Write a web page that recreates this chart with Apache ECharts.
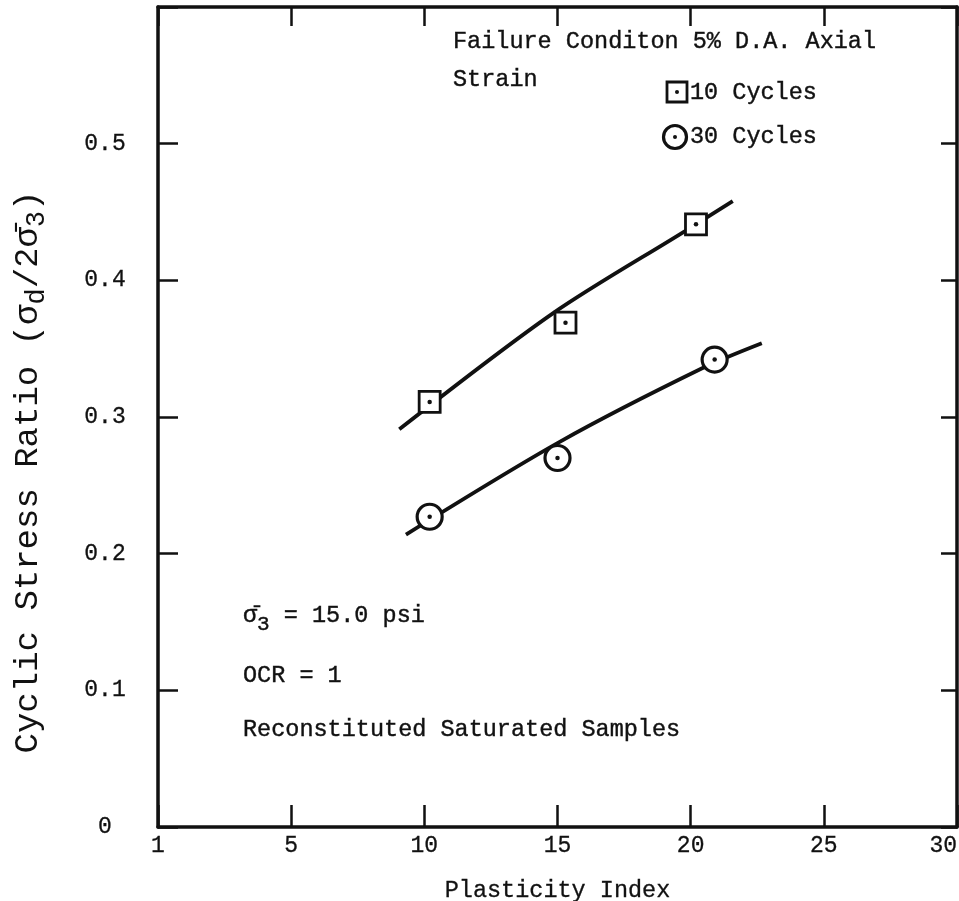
<!DOCTYPE html>
<html>
<head>
<meta charset="utf-8">
<title>Cyclic Stress Ratio vs Plasticity Index</title>
<script src="https://cdn.jsdelivr.net/npm/echarts@6/dist/echarts.min.js"></script>
<style>
  html, body { margin: 0; padding: 0; background: #fff; }
  #chart { width: 959px; height: 901px; }
</style>
</head>
<body>
<div id="chart"></div>
<script>
// axis tick labels as printed on the figure
var xTickLabels = ['1', '5', '10', '15', '20', '25', '30'];
var yTickLabels = ['0', '0.1', '0.2', '0.3', '0.4', '0.5', ''];

var pi10 = [10.2, 15.3, 20.2];
var csr10 = [0.311, 0.369, 0.441];
var pi30 = [10.2, 15.0, 20.9];
var csr30 = [0.227, 0.270, 0.342];

// hand drawn trend lines
var fitPi10 = [9.06, 14.84, 19.79, 21.58];
var fitCsr10 = [0.291, 0.376, 0.436, 0.458];
var fitPi30 = [9.31, 15.1, 20.47, 22.67];
var fitCsr30 = [0.214, 0.282, 0.336, 0.354];

var FONT = 'Liberation Mono';
var INK = '#111';

function pairs(xs, ys) {
    return xs.map(function (x, i) { return [x, ys[i]]; });
}

// plain text block for the graphic layer, slightly stroked to look typed
function note(x, y, text) {
    return {
        type: 'text', x: x, y: y,
        style: {
            text: text, fontFamily: FONT, fontSize: 23.5, fill: INK,
            stroke: INK, lineWidth: 0.4, verticalAlign: 'middle'
        }
    };
}

var chart = echarts.init(document.getElementById('chart'));

var frameLine = { show: true, onZero: false, lineStyle: { color: INK, width: 3.5 } };
var tickFont = { color: INK, fontFamily: FONT, fontSize: 23, textBorderColor: INK, textBorderWidth: 0.3 };

var option = {
    backgroundColor: '#fff',
    animation: false,
    grid: { left: 158, right: 2, top: 7, bottom: 74, outerBoundsMode: 'none', containLabel: false },
    xAxis: [
        {
            type: 'value', position: 'bottom', min: 0, max: 30, interval: 5,
            axisLine: frameLine,
            axisTick: { inside: true, length: 22, lineStyle: { color: INK, width: 2.5 } },
            splitLine: { show: false },
            axisLabel: Object.assign({
                margin: 7, alignMaxLabel: 'right',
                formatter: function (v) { return xTickLabels[Math.round(v / 5)]; }
            }, tickFont),
            name: 'Plasticity Index', nameLocation: 'middle', nameGap: 52,
            nameTextStyle: { color: INK, fontFamily: FONT, fontSize: 23.5, textBorderColor: INK, textBorderWidth: 0.3 }
        },
        {
            type: 'value', position: 'top', min: 0, max: 30, interval: 5,
            axisLine: frameLine,
            axisTick: { inside: true, length: 19, lineStyle: { color: INK, width: 2.5 } },
            axisLabel: { show: false },
            splitLine: { show: false }
        }
    ],
    yAxis: [
        {
            type: 'value', position: 'left', min: 0, max: 0.6, interval: 0.1,
            axisLine: frameLine,
            axisTick: { inside: true, length: 20, lineStyle: { color: INK, width: 2.5 } },
            splitLine: { show: false },
            axisLabel: Object.assign({
                margin: 53, align: 'center',
                formatter: function (v) { return yTickLabels[Math.round(v * 10)]; }
            }, tickFont)
        },
        {
            type: 'value', position: 'right', min: 0, max: 0.6, interval: 0.1,
            axisLine: frameLine,
            axisTick: { inside: true, length: 16, lineStyle: { color: INK, width: 2.5 } },
            axisLabel: { show: false },
            splitLine: { show: false }
        }
    ],
    series: [
        {
            name: '10 Cycles line', type: 'line', data: pairs(fitPi10, fitCsr10),
            smooth: 0.3, symbol: 'none', lineStyle: { color: INK, width: 3.8 }, z: 2
        },
        {
            name: '30 Cycles line', type: 'line', data: pairs(fitPi30, fitCsr30),
            smooth: 0.3, symbol: 'none', lineStyle: { color: INK, width: 3.8 }, z: 2
        },
        {
            name: '10 Cycles', type: 'scatter', data: pairs(pi10, csr10),
            symbol: 'rect', symbolSize: 21,
            itemStyle: { color: '#fff', borderColor: INK, borderWidth: 2.8, opacity: 1 }, z: 3
        },
        {
            name: '30 Cycles', type: 'scatter', data: pairs(pi30, csr30),
            symbol: 'circle', symbolSize: 25,
            itemStyle: { color: '#fff', borderColor: INK, borderWidth: 3.2, opacity: 1 }, z: 3
        },
        {
            // centre dots of both marker kinds
            name: 'dots', type: 'scatter', data: pairs(pi10, csr10).concat(pairs(pi30, csr30)),
            symbol: 'circle', symbolSize: 4.5, itemStyle: { color: INK, opacity: 1 }, z: 4
        }
    ],
    graphic: [
        // y axis title, reading bottom to top
        {
            type: 'text', x: 28, y: 472, rotation: Math.PI / 2,
            style: {
                text: '{m|Cyclic Stress Ratio (σ}{s|d}{m|/2σ̄}{s|3}{m|)}',
                align: 'center', verticalAlign: 'middle', fill: INK,
                rich: {
                    m: { fontFamily: FONT, fontSize: 34, fill: INK },
                    s: { fontFamily: FONT, fontSize: 27, fill: INK, padding: [17, 0, 0, 0] }
                }
            }
        },
        // note block, upper right
        note(453, 42, 'Failure Conditon 5% D.A. Axial'),
        note(453, 80, 'Strain'),
        {
            type: 'rect', shape: { x: 667, y: 82, width: 20, height: 20 },
            style: { fill: '#fff', stroke: INK, lineWidth: 2.8 }
        },
        { type: 'circle', shape: { cx: 677, cy: 92, r: 2 }, style: { fill: INK } },
        note(690, 93, '10 Cycles'),
        {
            type: 'circle', shape: { cx: 675, cy: 137, r: 11.5 },
            style: { fill: '#fff', stroke: INK, lineWidth: 3.2 }
        },
        { type: 'circle', shape: { cx: 675, cy: 137, r: 2 }, style: { fill: INK } },
        note(690, 137, '30 Cycles'),
        // test conditions, lower left
        {
            type: 'text', x: 243, y: 616,
            style: {
                text: '{m|σ̄}{s|3}{m| = 15.0 psi}', verticalAlign: 'middle', fill: INK,
                rich: {
                    m: { fontFamily: FONT, fontSize: 23.5, fill: INK, stroke: INK, lineWidth: 0.4 },
                    s: { fontFamily: FONT, fontSize: 21, fill: INK, stroke: INK, lineWidth: 0.4, padding: [16, 0, 0, 0] }
                }
            }
        },
        note(243, 676, 'OCR = 1'),
        note(243, 730, 'Reconstituted Saturated Samples')
    ]
};

chart.setOption(option);
</script>
</body>
</html>
